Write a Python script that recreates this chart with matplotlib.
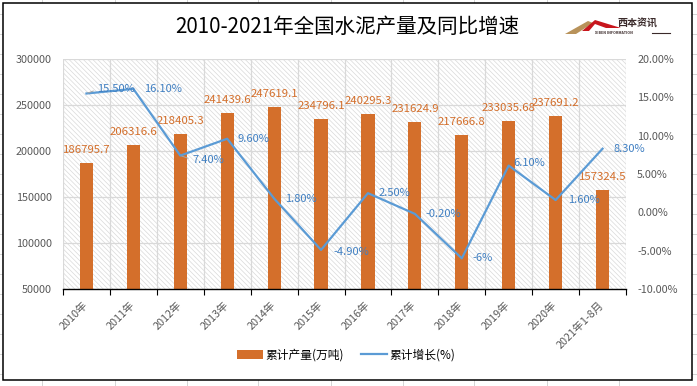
import numpy as np
import matplotlib
matplotlib.use("Agg")
import matplotlib.pyplot as plt
from matplotlib.patches import Rectangle, Polygon, Patch
from matplotlib.lines import Line2D

# data
years = ["2010年", "2011年", "2012年", "2013年", "2014年", "2015年",
         "2016年", "2017年", "2018年", "2019年", "2020年", "2021年1-8月"]
output = [186795.7, 206316.6, 218405.3, 241439.6, 247619.1, 234796.1,
          240295.3, 231624.9, 217666.8, 233035.68, 237691.2, 157324.5]
output_labels = ["186795.7", "206316.6", "218405.3", "241439.6", "247619.1", "234796.1",
                 "240295.3", "231624.9", "217666.8", "233035.68", "237691.2", "157324.5"]
growth = [15.5, 16.1, 7.4, 9.6, 1.8, -4.9, 2.5, -0.2, -6, 6.1, 1.6, 8.3]
growth_labels = ["15.50%", "16.10%", "7.40%", "9.60%", "1.80%", "-4.90%",
                 "2.50%", "-0.20%", "-6%", "6.10%", "1.60%", "8.30%"]

title = "2010-2021年全国水泥产量及同比增速"
bar_name = "累计产量(万吨)"
line_name = "累计增长(%)"

plt.rcParams["font.family"] = ["Noto Sans CJK SC", "DejaVu Sans"]
plt.rcParams["hatch.linewidth"] = 0.5

bar_color = "#D46F2B"
line_color = "#5B9BD5"
line_text = "#3F7FC2"
grey = "#595959"

W, H = 697, 386
fig = plt.figure(figsize=(6.97, 3.86), dpi=100)


def px(x, y):
    return (x / W, 1 - y / H)


# spreadsheet cells behind the chart
for gx in [42, 115, 187, 258, 331, 403, 474, 547, 619]:
    fig.add_artist(Line2D([gx / W, gx / W], [0, 1], color="#D4D4D4", lw=0.7, zorder=-3))
for gy in range(14, 386, 20):
    fig.add_artist(Line2D([0, 1], [1 - gy / H, 1 - gy / H], color="#D4D4D4", lw=0.7, zorder=-3))
fig.add_artist(Rectangle(px(3, 380), 689 / W, 377 / H, transform=fig.transFigure,
                         facecolor="white", edgecolor="black", lw=1.1, zorder=-2))

ax = fig.add_axes([63 / W, 1 - 289 / H, (626 - 63) / W, (289 - 59) / H])
x = np.arange(len(years))

bg = Rectangle((0, 0), 1, 1, transform=ax.transAxes, facecolor="white",
               edgecolor="#D9D9D9", lw=0, hatch="\\" * 7, zorder=0)
ax.add_patch(bg)
ax.set_axisbelow(True)

ax.bar(x, output, width=0.28, color=bar_color, zorder=2)
for i in range(len(x)):
    ax.annotate(output_labels[i], (x[i], output[i]), xytext=(0, 9.4),
                textcoords="offset points", ha="center", va="center",
                fontsize=8.2, color=bar_color, zorder=4)

ax.set_xlim(-0.5, len(years) - 0.5)
ax.set_ylim(50000, 300000)
ax.set_yticks(range(50000, 300001, 50000))
ax.set_yticklabels([str(v) for v in range(50000, 300001, 50000)])
ax.set_xticks(np.arange(-0.5, len(years), 1))
ax.set_xticks(x, minor=True)
ax.set_xticklabels(years, minor=True, rotation=45, ha="right", va="center",
                   rotation_mode="anchor", fontsize=7.8, color=grey)
ax.tick_params(axis="x", which="major", length=4, width=0.8, color="black",
               direction="out", labelbottom=False)
ax.tick_params(axis="x", which="minor", length=0, pad=10.5)
ax.tick_params(axis="y", length=0, pad=8, labelsize=7.8, labelcolor=grey)
ax.grid(True, which="major", color="#D9D9D9", lw=0.9)
for s in ["top", "left", "right"]:
    ax.spines[s].set_visible(False)
ax.spines["bottom"].set_color("black")
ax.spines["bottom"].set_linewidth(1.0)

ax2 = ax.twinx()
ax2.plot(x, growth, color=line_color, lw=1.6, zorder=3)
ax2.set_ylim(-10, 20)
ax2.set_yticks(range(-10, 21, 5))
ax2.set_yticklabels([f"{v:.2f}%" for v in range(-10, 21, 5)])
ax2.tick_params(axis="y", length=0, pad=8, labelsize=7.8, labelcolor=grey)
for s in ["top", "left", "right", "bottom"]:
    ax2.spines[s].set_visible(False)

# label offsets in pixels (dx right, dy down)
offs = [(11, -4), (11, 0), (12, 4), (10, 0), (11, 0), (12, 2),
        (11, 0), (11, 0), (11, 0), (5, -3), (12, 0), (11, 0)]
for i in range(len(x)):
    dx, dy = offs[i]
    kw = {}
    if i in (0, 2):
        kw["arrowprops"] = dict(arrowstyle="-", color="#A6A6A6", lw=0.7,
                                shrinkA=1, shrinkB=1, relpos=(0, 0.5))
    ax2.annotate(growth_labels[i], (x[i], growth[i]), xytext=(dx * 0.72, -dy * 0.72),
                 textcoords="offset points", ha="left", va="center",
                 fontsize=8, color=line_text, **kw)

# title
fig.text(*px(347, 27), title, ha="center", va="center", fontsize=14.8, color="black")

# logo
fig.add_artist(Polygon([px(565, 34), px(588, 21), px(593, 23), px(576, 34)],
                       closed=True, transform=fig.transFigure, facecolor="#B8925A",
                       edgecolor="none"))
fig.add_artist(Polygon([px(582, 31), px(595, 20), px(621, 28), px(606, 28),
                        px(595, 24), px(589, 31)],
                       closed=True, transform=fig.transFigure, facecolor="#C8161D",
                       edgecolor="none"))
fig.text(*px(637, 24), "西本资讯", ha="center", va="center", fontsize=7.2,
         fontweight="bold", style="italic", color="#3A2A2A")
fig.text(*px(614, 33), "XIBEN INFORMATION", ha="center", va="center", fontsize=2.6,
         fontweight="bold", color="#3A2A2A")
fig.add_artist(Line2D([652 / W, 670 / W], [1 - 33 / H, 1 - 33 / H],
                      color="#3A2A2A", lw=0.8))

fig.legend(handles=[Patch(facecolor=bar_color, edgecolor="none"),
                    Line2D([], [], color=line_color, lw=1.6)],
           labels=[bar_name, line_name], loc="center", bbox_to_anchor=px(346, 355),
           ncol=2, frameon=False, fontsize=8.5, handlelength=2.2,
           handletextpad=0.2, columnspacing=1.4)

fig.savefig("out.png", dpi=100)
